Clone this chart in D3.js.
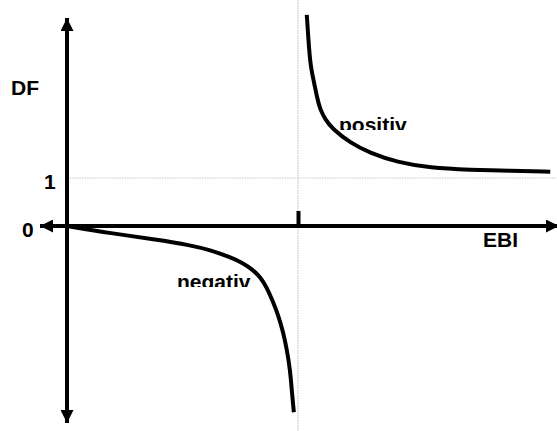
<!DOCTYPE html>
<html>
<head>
<meta charset="utf-8">
<script src="https://cdn.jsdelivr.net/npm/d3@7"></script>
<style>
  html, body { margin: 0; padding: 0; background: #fff; }
  svg { display: block; }
  text { font-family: "Liberation Sans", Arial, sans-serif; font-weight: bold; font-size: 21px; fill: #000; }
</style>
</head>
<body>
<svg id="chart" width="557" height="431"></svg>
<script>
// Degree of financial leverage (DF) against earnings before interest (EBI)
const interestPoint = 5;          // EBI where DF jumps (vertical asymptote)
const referenceDF = 1;            // horizontal reference level

// Branch left of the asymptote: DF below zero
const negEBI = [0, 0.93, 2.01, 2.66, 3.10, 3.53, 3.81, 4.03, 4.18, 4.33, 4.46, 4.57, 4.68, 4.76, 4.83, 4.87, 4.91];
const negDF  = [0, -0.15, -0.29, -0.40, -0.50, -0.65, -0.77, -0.92, -1.06, -1.29, -1.58, -1.85, -2.21, -2.58, -3.0, -3.48, -3.88];

// Branch right of the asymptote: DF above one, easing toward one
const posEBI = [5.19, 5.24, 5.28, 5.35, 5.41, 5.48, 5.60, 5.73, 6.13, 6.56, 7.14, 7.86, 8.73, 9.59, 10.46];
const posDF  = [4.40, 3.67, 3.29, 2.98, 2.69, 2.42, 2.21, 2.04, 1.73, 1.52, 1.33, 1.21, 1.17, 1.15, 1.13];

const yTickLabels = ["0", "1"];
const branchLabels = ["negativ", "positiv"];
const axisLabels = ["DF", "EBI"];

const svg = d3.select("#chart");
const W = 557, H = 431;

const x = d3.scaleLinear().domain([0, 10]).range([67, 529]);
const y = d3.scaleLinear().domain([0, 1]).range([226, 178]);

// Dotted guide lines
svg.append("line")
  .attr("x1", x(interestPoint)).attr("x2", x(interestPoint))
  .attr("y1", 0).attr("y2", H)
  .attr("stroke", "#c8c8c8").attr("stroke-width", 1.2).attr("stroke-dasharray", "1.5,1");
svg.append("line")
  .attr("x1", x(0)).attr("x2", W)
  .attr("y1", y(referenceDF)).attr("y2", y(referenceDF))
  .attr("stroke", "#c8c8c8").attr("stroke-width", 1.2).attr("stroke-dasharray", "1.5,1");

// Arrowhead marker
const defs = svg.append("defs");
defs.append("marker")
  .attr("id", "arrow")
  .attr("viewBox", "0 0 10 10")
  .attr("refX", 10).attr("refY", 5)
  .attr("markerUnits", "userSpaceOnUse")
  .attr("markerWidth", 14).attr("markerHeight", 13)
  .attr("orient", "auto-start-reverse")
  .append("path").attr("d", "M0,0 L10,5 L0,10 Z").attr("fill", "#000");

// Y axis (DF), arrows at both ends
svg.append("line")
  .attr("x1", x(0)).attr("x2", x(0))
  .attr("y1", 423).attr("y2", 18)
  .attr("stroke", "#000").attr("stroke-width", 4)
  .attr("marker-start", "url(#arrow)").attr("marker-end", "url(#arrow)");

// X axis (EBI), arrows at both ends
svg.append("line")
  .attr("x1", 40).attr("x2", 559)
  .attr("y1", y(0)).attr("y2", y(0))
  .attr("stroke", "#000").attr("stroke-width", 4)
  .attr("marker-start", "url(#arrow)").attr("marker-end", "url(#arrow)");

// Tick mark at the interest point, pointing up
const xAxis = d3.axisBottom(x).tickValues([interestPoint]).tickSizeInner(-15).tickSizeOuter(0).tickFormat("");
const gx = svg.append("g").attr("transform", `translate(0,${y(0)})`).call(xAxis);
gx.select(".domain").remove();
gx.selectAll(".tick line").attr("stroke", "#000").attr("stroke-width", 4);

// Curves
const line = d3.line().x(d => x(d[0])).y(d => y(d[1])).curve(d3.curveBasis);
const negData = negEBI.map((v, i) => [v, negDF[i]]);
const posData = posEBI.map((v, i) => [v, posDF[i]]);

svg.append("path").datum(negData).attr("d", line)
  .attr("fill", "none").attr("stroke", "#000").attr("stroke-width", 4).attr("stroke-linecap", "butt");
svg.append("path").datum(posData).attr("d", line)
  .attr("fill", "none").attr("stroke", "#000").attr("stroke-width", 4).attr("stroke-linecap", "butt");

// Axis labels
svg.append("text").attr("x", 11).attr("y", 95).text(axisLabels[0]);
svg.append("text").attr("x", 483).attr("y", 247).text(axisLabels[1]);

// Y tick labels
svg.append("text").attr("x", 22).attr("y", y(0) + 11).text(yTickLabels[0]);
svg.append("text").attr("x", 44).attr("y", y(1) + 11).text(yTickLabels[1]);

// Branch labels, trimmed at the bottom of their boxes
defs.append("clipPath").attr("id", "clipNeg")
  .append("rect").attr("x", 170).attr("y", 260).attr("width", 90).attr("height", 27);
defs.append("clipPath").attr("id", "clipPos")
  .append("rect").attr("x", 330).attr("y", 105).attr("width", 90).attr("height", 25);

svg.append("text").attr("x", 177).attr("y", 289).attr("clip-path", "url(#clipNeg)").text(branchLabels[0]);
svg.append("text").attr("x", 339).attr("y", 132).attr("clip-path", "url(#clipPos)").text(branchLabels[1]);
</script>
</body>
</html>
